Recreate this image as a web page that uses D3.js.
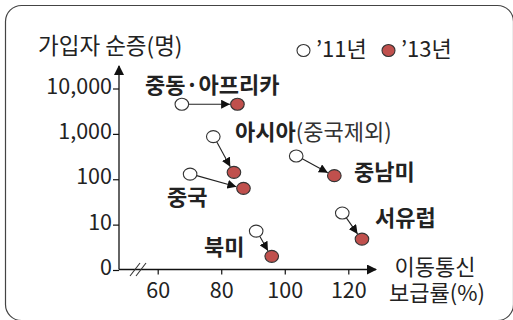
<!DOCTYPE html>
<html>
<head>
<meta charset="utf-8">
<script src="https://cdn.jsdelivr.net/npm/d3@7"></script>
<style>
  html, body { margin: 0; padding: 0; background: #fff; }
  svg { display: block; }
  text { font-family: "Noto Sans CJK KR", "Noto Sans", sans-serif; fill: #222; }
</style>
</head>
<body>
<script>
// Regions and their mobile penetration (%) / net subscriber growth, 2011 -> 2013
const regions = ["중동·아프리카", "아시아", "중국", "중남미", "서유럽", "북미"];
const penetration2011 = [67.6, 77.5, 70.2, 103.6, 118.1, 91.0];
const penetration2013 = [85.1, 84.0, 87.0, 115.6, 124.3, 95.9];
const netAdds2011 = [4500, 870, 130, 325, 18, 7.2];
const netAdds2013 = [4500, 142, 63, 120, 4.8, 2.0];

const xTicks = [60, 80, 100, 120];
const yTicks = [1, 10, 100, 1000, 10000];
const yTickLabels = ["0", "10", "100", "1,000", "10,000"];

const legendLabels = ["’11년", "’13년"];
const yTitle = "가입자 순증(명)";
const xTitle = ["이동통신", "보급률(%)"];

const W = 513, H = 320;
const fillRed = "#c0504d";

const svg = d3.select("body").append("svg").attr("width", W).attr("height", H);

// outer rounded frame
svg.append("rect")
  .attr("x", 5.5).attr("y", 5.5).attr("width", 508).attr("height", 315)
  .attr("rx", 16).attr("ry", 16)
  .attr("fill", "none").attr("stroke", "#444").attr("stroke-width", 1.2);

const x = d3.scaleLinear().domain([60, 120]).range([157.7, 348.3]);
const y = d3.scaleLog().domain([1, 10000]).range([270, 88.5]);

const axisX0 = 119, axisY0 = 269.5;
const defs = svg.append("defs");
defs.append("marker").attr("id", "axisArrow")
  .attr("viewBox", "0 0 10 10").attr("refX", 9).attr("refY", 5)
  .attr("markerWidth", 10).attr("markerHeight", 10).attr("markerUnits", "userSpaceOnUse")
  .attr("orient", "auto")
  .append("path").attr("d", "M0,0 L10,5 L0,10 Z").attr("fill", "#111");
defs.append("marker").attr("id", "moveArrow")
  .attr("viewBox", "0 0 10 10").attr("refX", 10).attr("refY", 5)
  .attr("markerWidth", 9).attr("markerHeight", 9).attr("markerUnits", "userSpaceOnUse")
  .attr("orient", "auto")
  .append("path").attr("d", "M0,0 L10,5 L0,10 Z").attr("fill", "#111");

// axis lines with arrowheads
svg.append("line").attr("x1", axisX0).attr("y1", axisY0).attr("x2", axisX0).attr("y2", 66)
  .attr("stroke", "#111").attr("stroke-width", 1.3).attr("marker-end", "url(#axisArrow)");
svg.append("line").attr("x1", axisX0).attr("y1", axisY0).attr("x2", 376).attr("y2", axisY0)
  .attr("stroke", "#111").attr("stroke-width", 1.3).attr("marker-end", "url(#axisArrow)");

// axis break marks
[0, 6].forEach(dx => {
  svg.append("line")
    .attr("x1", 130 + dx).attr("y1", 276).attr("x2", 140 + dx).attr("y2", 263)
    .attr("stroke", "#333").attr("stroke-width", 1.1);
});

// y axis: ticks on the left, labels right-aligned
const yAxis = d3.axisLeft(y).tickValues(yTicks)
  .tickFormat((d, i) => yTickLabels[i]).tickSize(6).tickPadding(1);
const gy = svg.append("g").attr("transform", `translate(${axisX0},0)`).call(yAxis);
gy.select(".domain").remove();
gy.selectAll(".tick line").attr("stroke", "#111").attr("stroke-width", 1.2);
gy.selectAll(".tick text").attr("font-size", 21.5).attr("fill", "#222").attr("dy", "0.22em")
  .style("font-family", "'Noto Sans CJK KR', sans-serif");

// x axis: short ticks below, centred labels
const xAxis = d3.axisBottom(x).tickValues(xTicks).tickSize(5);
const gx = svg.append("g").attr("transform", `translate(0,${axisY0})`).call(xAxis);
gx.select(".domain").remove();
gx.selectAll(".tick line").attr("stroke", "#111").attr("stroke-width", 1.2);
gx.selectAll(".tick text").attr("font-size", 21.5).attr("fill", "#222")
  .attr("y", 28).attr("dy", 0)
  .style("font-family", "'Noto Sans CJK KR', sans-serif");

// axis titles (x title is two stacked lines in one text block)
svg.append("text").attr("x", 38).attr("y", 54).attr("font-size", 22.5).attr("fill", "#333").text(yTitle);
const xt = svg.append("text").attr("text-anchor", "middle").attr("font-size", 22).attr("fill", "#333");
xt.append("tspan").attr("x", 435).attr("y", 275).text(xTitle[0]);
xt.append("tspan").attr("x", 437).attr("y", 301).text(xTitle[1]);

// legend
const leg = svg.append("g");
leg.append("ellipse").attr("cx", 303.5).attr("cy", 50.5).attr("rx", 6.5).attr("ry", 6)
  .attr("fill", "#fff").attr("stroke", "#333").attr("stroke-width", 1.1);
leg.append("text").attr("x", 316).attr("y", 57).attr("font-size", 22).text(legendLabels[0]);
leg.append("ellipse").attr("cx", 388.5).attr("cy", 50.5).attr("rx", 6.5).attr("ry", 6)
  .attr("fill", fillRed).attr("stroke", "#333").attr("stroke-width", 1.1);
leg.append("text").attr("x", 401).attr("y", 57).attr("font-size", 22).text(legendLabels[1]);

// movement arrows from 2011 to 2013 position
const rx = 6.8, ry = 6;
regions.forEach((r, i) => {
  const x1 = x(penetration2011[i]), y1 = y(netAdds2011[i]);
  const x2 = x(penetration2013[i]), y2 = y(netAdds2013[i]);
  const dx = x2 - x1, dy = y2 - y1, len = Math.hypot(dx, dy);
  const ux = dx / len, uy = dy / len;
  svg.append("line")
    .attr("x1", x1 + ux * rx).attr("y1", y1 + uy * ry)
    .attr("x2", x2 - ux * (rx + 0.5)).attr("y2", y2 - uy * (ry + 0.5))
    .attr("stroke", "#222").attr("stroke-width", 1.1)
    .attr("marker-end", "url(#moveArrow)");
});

// 2011 points (open) and 2013 points (filled)
svg.selectAll(".p11").data(regions).join("ellipse").attr("class", "p11")
  .attr("cx", (d, i) => x(penetration2011[i])).attr("cy", (d, i) => y(netAdds2011[i]))
  .attr("rx", rx).attr("ry", ry)
  .attr("fill", "#fff").attr("stroke", "#333").attr("stroke-width", 1.1);
svg.selectAll(".p13").data(regions).join("ellipse").attr("class", "p13")
  .attr("cx", (d, i) => x(penetration2013[i])).attr("cy", (d, i) => y(netAdds2013[i]))
  .attr("rx", rx).attr("ry", ry)
  .attr("fill", fillRed).attr("stroke", "#333").attr("stroke-width", 1.1);

// region labels
const labelPos = [
  [145, 93], [235, 140], [167, 205], [354, 180], [375, 226], [204, 255]
];
regions.forEach((r, i) => {
  const t = svg.append("text").attr("x", labelPos[i][0]).attr("y", labelPos[i][1])
    .attr("font-size", 22).attr("font-weight", "bold").attr("fill", "#111");
  t.append("tspan").text(r);
  if (r === "아시아") {
    t.append("tspan").attr("font-weight", "normal").attr("fill", "#333").text("(중국제외)");
  }
});
</script>
</body>
</html>
